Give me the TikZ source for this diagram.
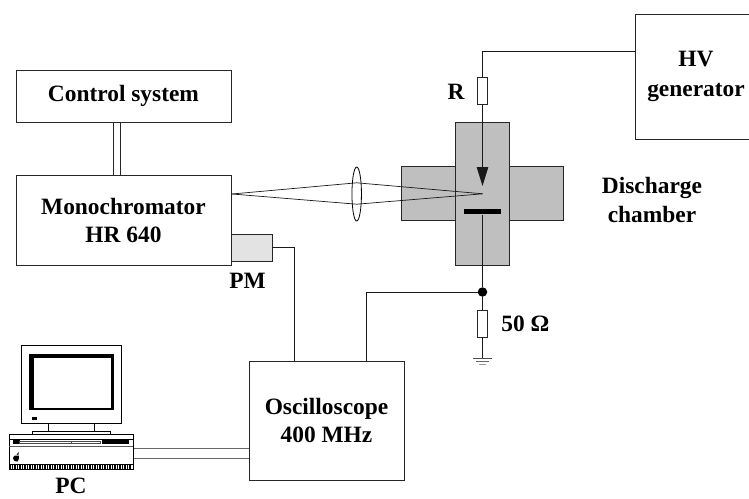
\documentclass[tikz,border=0pt]{standalone}
\usepackage{fontspec}
\setmainfont{Liberation Serif}
\usepackage{tikz}
\usetikzlibrary{positioning}
\usetikzlibrary{calc}
\usetikzlibrary{arrows.meta}
\usetikzlibrary{shapes.geometric}
\usepackage{xcolor}
\definecolor{wirecol}{gray}{0.15}
\definecolor{chambercol}{gray}{0.75}
\definecolor{pmcol}{gray}{0.89}
\tikzset{
	lbl/.style = {font=\fontsize{23.4}{28}\selectfont\bfseries, align=center, inner sep=0pt},
	unit/.style = {draw=wirecol, line width=0.9pt, inner sep=0pt, outer sep=0pt, lbl},
	part/.style = {unit, fill=chambercol},
	res/.style = {draw=wirecol, line width=0.8pt, fill=white, inner sep=0pt, outer sep=0pt, minimum width=9.5pt, minimum height=27pt},
	wire/.style = {draw=black!90, line width=0.8pt},
	pcline/.style = {draw=black, line width=0.8pt}
}
\begin{document}
\begin{tikzpicture}[x=1pt, y=-1pt]
	\useasboundingbox (0,0) rectangle (749,498);
	% instruments
	\node[unit, minimum width=215pt, minimum height=52pt] (control) at (123.5,96) {Control system};
	\node[unit, minimum width=215pt, minimum height=89.5pt, below = 53.5pt of control] (mono) {Monochromator\\HR 640};
	\node[unit, fill=pmcol, minimum width=41pt, minimum height=27pt] (pm) at (251.5,247.5) {};
	\node[lbl, below = 12pt of pm, xshift=-4pt] (pmlabel) {PM};
	\node[unit, minimum width=155pt, minimum height=119pt] (osc) at (326.5,420.5) {Oscilloscope\\400 MHz};
	\node[unit, minimum width=122pt, minimum height=124.5pt] (hv) at (696,76.75) {HV\\[2pt]generator};
	% discharge chamber
	\node[part, minimum width=161.5pt, minimum height=54pt] (arms) at (482.5,193.3) {};
	\node[part, minimum width=53.6pt, minimum height=143pt] (body) at (482.5,193.8) {};
	\node[lbl] (chamber) at (652,199.5) {Discharge\\[1pt]chamber};
	\node[fill=black, inner sep=0pt, minimum width=37pt, minimum height=5pt] (plate) at (482.5,211.8) {};
	\node[res] (rtop) at (482.5,90.5) {};
	\node[lbl, left = 13pt of rtop, yshift=-1.5pt] (rlabel) {R};
	\coordinate (tip) at (482.5,186);
	\coordinate (focus) at (482.7,193.8);
	\coordinate (corner) at (482.5,51);
	\node[circle, fill=black, inner sep=0pt, minimum size=9.5pt] (dot) at (482.5,292) {};
	\node[res, below = 18pt of dot.center] (rload) {};
	\node[lbl, right = 14pt of rload] (rloadlabel) {50 Ω};
	\coordinate (gnd) at (482.5,358);
	\draw[wire] (hv.west |- corner) -- (corner) -- (rtop);
	\draw[wire, -{Triangle[width=11.5pt,length=19pt]}] (rtop) -- (tip);
	\draw[wire] (plate) -- (dot) -- (rload) -- (gnd);
	\draw[wire] (dot) -| (366,361);
	\draw[draw=black!70, line width=0.9pt] ($(gnd)+(-9.5,0)$) -- ++(19,0);
	\draw[draw=black!60, line width=0.9pt] ($(gnd)+(-6.5,3.5)$) -- ++(13,0);
	\draw[draw=black!40, line width=0.9pt] ($(gnd)+(-3.5,6.5)$) -- ++(7,0);
	% optics
	\draw[wire, line width=0.7pt] (232,194) -- (356.7,182.8) -- (focus);
	\draw[wire, line width=0.7pt] (232,194) -- (356.7,204.2) -- (focus);
	\node[draw=black, line width=0.8pt, ellipse, inner sep=0pt, minimum width=9.5pt, minimum height=54pt] (lens) at (356.7,194) {};
	% connections
	\draw[wire] (272,247) -| (294,361);
	\draw[draw=wirecol, line width=0.8pt] (113,122) -- (113,175.5) (120.5,122) -- (120.5,175.5);
	\draw[draw=black!60, line width=0.9pt] (133,448.5) -- (249,448.5) (133,458) -- (249,458);
	% PC
	\draw[pcline] (21,345) rectangle (121,423);
	\fill (28.5,353.5) rectangle (113.5,410);
	\fill[white] (33.5,358) rectangle (111,408);
	\fill (32,417) rectangle (37,420);
	\draw[pcline] (48,423) -- (48,431) (94,423) -- (94,431);
	\draw[pcline] (32.5,435) -- (32.5,431) -- (110,431) -- (110,435);
	\draw[pcline] (9,434.5) rectangle (133,469);
	\draw[pcline] (9,439) -- (133,439);
	\draw[draw=black!65, line width=0.9pt] (9,446) -- (133,446);
	\fill (13,440) rectangle (19.5,444);
	\fill (102,440) rectangle (129,444);
	\draw[draw=black!70, line width=0.6pt] (19.5,441) rectangle (100,443.5) (71,441) -- (71,443.5);
	\fill (13,458.5) .. controls (13.5,455) and (16,455) .. (19,455.5) .. controls (19,458) and (19,460) .. (17.5,461.5) .. controls (15.5,462) and (13.5,461) .. (13,458.5) -- cycle;
	\fill (16.5,455) -- (18.5,452) -- (18.5,454.5) -- cycle;
	\draw[black, line width=0.6pt] (9,464) -- (133,464);
	\foreach \tickx in {10,12.5,...,132}
		\draw[black, line width=1.3pt] (\tickx,464) -- (\tickx,469);
	\node[lbl] (pclabel) at (71,485.5) {PC};
\end{tikzpicture}
\end{document}
